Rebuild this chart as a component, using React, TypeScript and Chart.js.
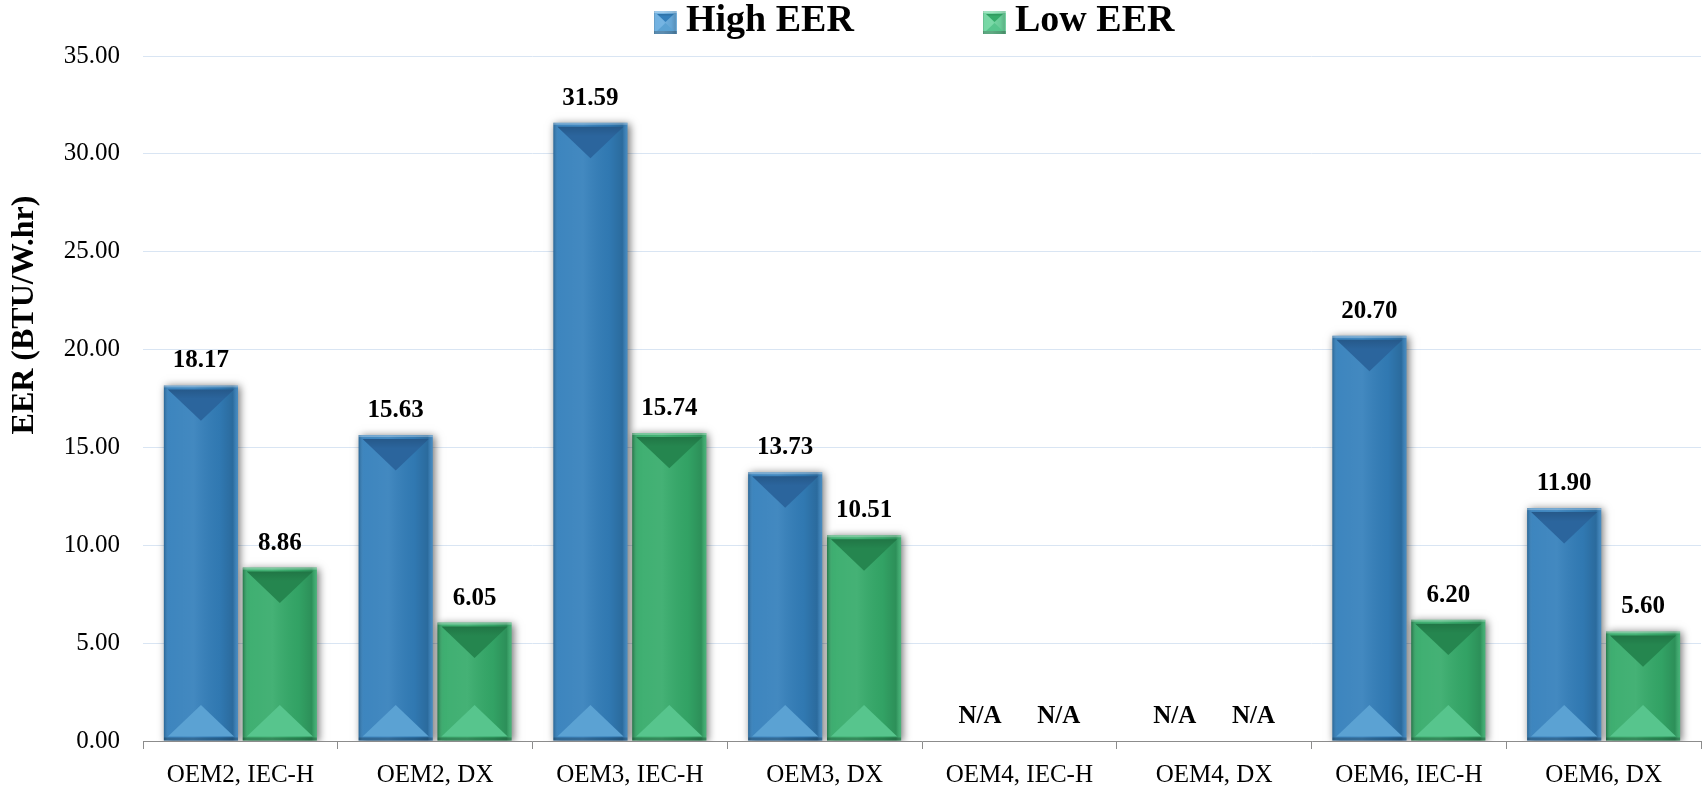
import React, { useEffect, useRef } from "react";
import { Chart, registerables } from "chart.js";

Chart.register(...registerables);

const categories = [
  "OEM2, IEC-H",
  "OEM2, DX",
  "OEM3, IEC-H",
  "OEM3, DX",
  "OEM4, IEC-H",
  "OEM4, DX",
  "OEM6, IEC-H",
  "OEM6, DX",
];
const highEER: (number | null)[] = [18.17, 15.63, 31.59, 13.73, null, null, 20.7, 11.9];
const lowEER: (number | null)[] = [8.86, 6.05, 15.74, 10.51, null, null, 6.2, 5.6];
const seriesLabels = ["High EER", "Low EER"];
const yTitle = "EER (BTU/W.hr)";
const missingLabel = "N/A";

const FONT = "'Liberation Serif', 'DejaVu Serif', serif";

const PALETTES = [
  { main: "#337fbb", top: "#2b659d", bottom: "#5ba2d3", legend: "#6aaee0" },
  { main: "#35ab6a", top: "#25864f", bottom: "#57c58d", legend: "#6fd6a0" },
];

function drawBevel(ctx: CanvasRenderingContext2D, l: number, t: number, w: number, h: number, pal: any, rim = 4) {
  const r = l + w;
  const b = t + h;
  const cx = l + w / 2;
  ctx.save();
  const g = ctx.createLinearGradient(l, 0, r, 0);
  g.addColorStop(0, "rgba(0,0,0,0.20)");
  g.addColorStop(0.07, "rgba(255,255,255,0.05)");
  g.addColorStop(0.4, "rgba(255,255,255,0.08)");
  g.addColorStop(0.75, "rgba(0,0,0,0.05)");
  g.addColorStop(0.93, "rgba(0,0,0,0.16)");
  g.addColorStop(1, "rgba(255,255,255,0.10)");
  ctx.fillStyle = g;
  ctx.fillRect(l, t, w, h);
  const d = Math.max(0, Math.min((w / 2 - rim) * 0.95, h / 2 - rim));
  // top bevel
  ctx.fillStyle = pal.top;
  ctx.beginPath();
  ctx.moveTo(l + rim, t + rim);
  ctx.lineTo(r - rim, t + rim);
  ctx.lineTo(cx, t + rim + d);
  ctx.closePath();
  ctx.fill();
  const tg = ctx.createLinearGradient(0, t + rim, 0, t + rim + d);
  tg.addColorStop(0, "rgba(0,0,0,0.12)");
  tg.addColorStop(0.3, "rgba(0,0,0,0)");
  ctx.fillStyle = tg;
  ctx.beginPath();
  ctx.moveTo(l + rim, t + rim);
  ctx.lineTo(r - rim, t + rim);
  ctx.lineTo(cx, t + rim + d);
  ctx.closePath();
  ctx.fill();
  // bottom bevel
  ctx.fillStyle = pal.bottom;
  ctx.beginPath();
  ctx.moveTo(l + rim, b - rim);
  ctx.lineTo(r - rim, b - rim);
  ctx.lineTo(cx, b - rim - d);
  ctx.closePath();
  ctx.fill();
  // rims
  ctx.fillStyle = "rgba(255,255,255,0.30)";
  ctx.fillRect(l, t, w, Math.min(2, h));
  ctx.fillStyle = "rgba(0,0,0,0.22)";
  ctx.fillRect(l, b - Math.min(3, h), w, Math.min(3, h));
  ctx.restore();
}

const bevelPlugin = {
  id: "bevelBars",
  beforeDatasetsDraw(chart: any) {
    const ctx = chart.ctx;
    ctx.save();
    ctx.shadowColor = "rgba(0,0,0,0.55)";
    ctx.shadowBlur = 8;
    ctx.shadowOffsetX = 2;
    ctx.shadowOffsetY = 1;
  },
  afterDatasetsDraw(chart: any) {
    const ctx = chart.ctx;
    ctx.restore();
    const yScale = chart.scales.y;
    const zeroY = yScale.getPixelForValue(0);
    chart.data.datasets.forEach((ds: any, di: number) => {
      const meta = chart.getDatasetMeta(di);
      const pal = PALETTES[di];
      meta.data.forEach((el: any, i: number) => {
        const v = ds.data[i];
        const p = el.getProps(["x", "y", "base", "width"], true);
        ctx.save();
        ctx.fillStyle = "#000";
        ctx.font = `bold 25px ${FONT}`;
        ctx.textAlign = "center";
        ctx.textBaseline = "alphabetic";
        if (v == null) {
          ctx.fillText(missingLabel, p.x, zeroY - 18);
        } else {
          drawBevel(ctx, p.x - p.width / 2, p.y, p.width, p.base - p.y, pal);
          ctx.fillStyle = "#000";
          ctx.fillText(Number(v).toFixed(2), p.x, p.y - 18);
        }
        ctx.restore();
      });
    });
  },
};

const decorPlugin = {
  id: "decor",
  afterDraw(chart: any) {
    const ctx = chart.ctx;
    ctx.save();
    // y axis title
    ctx.translate(25, 315);
    ctx.rotate(-Math.PI / 2);
    ctx.font = `bold 32px ${FONT}`;
    ctx.fillStyle = "#000";
    ctx.textAlign = "center";
    ctx.textBaseline = "middle";
    ctx.fillText(yTitle, 0, 0);
    ctx.restore();

    // legend
    const boxes = [654, 983];
    chart.data.datasets.forEach((ds: any, di: number) => {
      const bx = boxes[di];
      const pal = PALETTES[di];
      ctx.save();
      ctx.fillStyle = pal.legend;
      ctx.fillRect(bx, 11, 23, 23);
      drawBevel(ctx, bx, 11, 23, 23, { top: pal.main, bottom: pal.bottom }, 3);
      ctx.fillStyle = "#000";
      ctx.font = `bold 38px ${FONT}`;
      ctx.textAlign = "left";
      ctx.textBaseline = "middle";
      ctx.fillText(ds.label, bx + 32, 21);
      ctx.restore();
    });
  },
};

export default function App() {
  const ref = useRef<HTMLCanvasElement | null>(null);
  useEffect(() => {
    document.body.style.margin = "0";
    if (!ref.current) return;
    const chart = new Chart(ref.current, {
      type: "bar",
      data: {
        labels: categories,
        datasets: [
          {
            label: seriesLabels[0],
            data: highEER,
            backgroundColor: PALETTES[0].main,
            categoryPercentage: 0.81,
            barPercentage: 0.94,
          },
          {
            label: seriesLabels[1],
            data: lowEER,
            backgroundColor: PALETTES[1].main,
            categoryPercentage: 0.81,
            barPercentage: 0.94,
          },
        ],
      },
      options: {
        responsive: false,
        animation: false,
        devicePixelRatio: 1,
        layout: { padding: { top: 56, left: 0, right: 1, bottom: 0 } },
        plugins: {
          legend: { display: false },
          tooltip: { enabled: false },
        },
        scales: {
          x: {
            grid: {
              offset: true,
              drawOnChartArea: false,
              drawTicks: true,
              tickLength: 8,
              color: "#8c8c8c",
            },
            border: { display: true, color: "#8c8c8c", width: 1 },
            ticks: {
              color: "#000",
              font: { family: FONT, size: 25 },
              padding: 11,
              maxRotation: 0,
              autoSkip: false,
            },
            afterFit: (s: any) => {
              s.height = 49;
            },
          },
          y: {
            min: 0,
            max: 35,
            grid: { color: "#d9e5f3", drawTicks: false, lineWidth: 1 },
            border: { display: false },
            ticks: {
              stepSize: 5,
              color: "#000",
              font: { family: FONT, size: 25 },
              padding: 23,
              callback: (v: any) => Number(v).toFixed(2),
            },
            afterFit: (s: any) => {
              s.width = 143;
            },
          },
        },
      },
      plugins: [bevelPlugin, decorPlugin],
    });
    return () => chart.destroy();
  }, []);
  return (
    <div style={{ width: 1702, height: 790 }}>
      <canvas ref={ref} width={1702} height={790} />
    </div>
  );
}
